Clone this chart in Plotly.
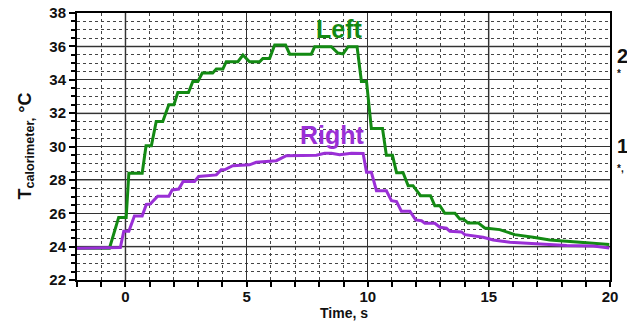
import plotly.graph_objects as go

# Left calorimeter (green)
left_t = [-2, -0.66, -0.28, 0.03, 0.14, 0.69, 0.85, 1.07, 1.27, 1.54,
          1.79, 2.0, 2.16, 2.6, 2.78, 2.99, 3.17, 3.6, 3.75, 4.02,
          4.16, 4.64, 4.85, 5.12, 5.54, 5.67, 5.95, 6.16, 6.61, 6.78,
          7.67, 7.81, 8.5, 8.77, 8.98, 9.19, 9.56, 9.74, 9.95, 10.15,
          10.61, 10.77, 11.02, 11.19, 11.46, 11.67, 11.87, 12.18, 12.59, 12.77,
          12.98, 13.18, 13.6, 13.8, 13.94, 14.14, 14.56, 14.83, 15.45, 16.07,
          16.83, 17.52, 18.76, 19.97]
left_T = [23.9, 23.9, 25.75, 25.75, 28.4, 28.4, 30.05, 30.05, 31.5, 31.5,
          32.5, 32.5, 33.24, 33.24, 33.9, 33.9, 34.4, 34.4, 34.64, 34.64,
          35.08, 35.08, 35.48, 35.08, 35.08, 35.28, 35.28, 36.08, 36.08, 35.53,
          35.53, 35.98, 35.98, 35.6, 35.55, 35.98, 35.98, 33.9, 33.9, 31.08,
          31.08, 29.47, 29.47, 28.43, 28.43, 27.65, 27.65, 27.05, 27.05, 26.45,
          26.45, 26.0, 26.0, 25.66, 25.66, 25.42, 25.42, 25.12, 25.02, 24.72,
          24.56, 24.4, 24.26, 24.12]

# Right calorimeter (purple)
right_t = [-2, -0.21, -0.07, 0.14, 0.37, 0.69, 0.86, 1.02, 1.33, 1.79,
           1.93, 2.2, 2.38, 2.85, 3.02, 3.33, 3.75, 3.95, 4.09, 4.43,
           5.12, 5.4, 6.02, 6.23, 6.64, 7.88, 8.22, 8.5, 8.84, 9.33,
           9.81, 9.95, 10.15, 10.36, 10.77, 10.98, 11.19, 11.39, 11.74, 11.98,
           12.22, 12.36, 12.77, 12.98, 13.25, 13.39, 13.87, 14.01, 14.76, 15.18,
           15.87, 16.83, 18.21, 19.31, 19.97]
right_T = [23.9, 23.95, 24.92, 24.92, 25.83, 25.83, 26.53, 26.55, 27.02, 27.02,
           27.4, 27.45, 27.9, 27.9, 28.2, 28.25, 28.3, 28.6, 28.6, 28.85,
           28.9, 29.05, 29.1, 29.15, 29.45, 29.48, 29.6, 29.6, 29.5, 29.6,
           29.58, 28.45, 28.45, 27.35, 27.35, 26.75, 26.7, 26.12, 26.12, 25.6,
           25.55, 25.4, 25.4, 25.16, 25.1, 24.92, 24.88, 24.72, 24.56, 24.4,
           24.26, 24.16, 24.06, 24.04, 23.92]

x_ticks = [0, 5, 10, 15, 20]
y_ticks = [22, 24, 26, 28, 30, 32, 34, 36, 38]
grey_y = [24, 28, 32, 36]
grey_x = [0, 15]

GREEN = "#138a13"
PURPLE = "#9a2fd6"
FONT = "Liberation Sans, Arial, sans-serif"

# plot area sits at x 77..610, y 13..280 of the window (body margin removed below)
L, R, T, B = 77, 17, 13, 41
W, H = 627, 321
pw, ph = W - L - R, H - T - B


def px(xw):
    return (xw - L) / pw


def py(yw):
    return (H - B - yw) / ph


fig = go.Figure()
fig.add_trace(go.Scatter(x=left_t, y=left_T, mode="lines",
                         line=dict(color=GREEN, width=3), name="Left"))
fig.add_trace(go.Scatter(x=right_t, y=right_T, mode="lines",
                         line=dict(color=PURPLE, width=3), name="Right"))

shapes = []
for v in grey_y:
    shapes.append(dict(type="line", xref="paper", x0=0, x1=1, yref="y", y0=v, y1=v,
                       line=dict(color="#a0a0a0", width=2), layer="below"))
for v in grey_x:
    shapes.append(dict(type="line", yref="paper", y0=0, y1=1, xref="x", x0=v, x1=v,
                       line=dict(color="#a0a0a0", width=2), layer="below"))

annotations = [
    dict(x=8.84, y=37.05, xref="x", yref="y", text="Left", showarrow=False,
         font=dict(family=FONT, size=25, color=GREEN, weight="bold")),
    dict(x=8.55, y=30.67, xref="x", yref="y", text="Right", showarrow=False,
         font=dict(family=FONT, size=25, color=PURPLE, weight="bold")),
    dict(x=px(26), y=0.5, xref="paper", yref="paper", textangle=-90,
         xanchor="center", yanchor="middle",
         text="T<sub>calorimeter,</sub> °C", showarrow=False,
         font=dict(family=FONT, size=18, color="#111", weight="bold")),
    dict(x=px(344), y=py(313), xref="paper", yref="paper",
         xanchor="center", yanchor="middle", text="Time, s", showarrow=False,
         font=dict(family=FONT, size=14, color="#111", weight="bold")),
    dict(x=px(615), y=py(43), xref="paper", yref="paper",
         xanchor="left", text="2", showarrow=False,
         font=dict(family=FONT, size=20, color="#111", weight="bold")),
    dict(x=px(615), y=py(66), xref="paper", yref="paper",
         xanchor="left", text="*", showarrow=False,
         font=dict(family=FONT, size=10, color="#111", weight="bold")),
    dict(x=px(615), y=py(146), xref="paper", yref="paper",
         xanchor="left", text="1", showarrow=False,
         font=dict(family=FONT, size=20, color="#111", weight="bold")),
    dict(x=px(615), y=py(168), xref="paper", yref="paper",
         xanchor="left", text="*,", showarrow=False,
         font=dict(family=FONT, size=10, color="#111", weight="bold")),
]

fig.update_layout(
    width=W, height=H,
    margin=dict(l=L, r=R, t=T, b=B, autoexpand=False),
    paper_bgcolor="white", plot_bgcolor="white",
    showlegend=False,
    font=dict(family=FONT, color="#111"),
    shapes=shapes, annotations=annotations,
)
fig.update_xaxes(
    range=[-2, 20], tickvals=x_ticks, ticks="outside", ticklen=5, tickwidth=1.5,
    tickcolor="black", ticklabelstandoff=-3, automargin=False,
    tickfont=dict(family=FONT, size=15, color="#111", weight="bold"),
    showgrid=True, gridcolor="#333", gridwidth=1,
    minor=dict(dtick=1, tick0=0, showgrid=True, gridcolor="#444", griddash="dot",
               gridwidth=1, ticks="outside", ticklen=5, tickcolor="black"),
    showline=True, linecolor="black", linewidth=2, mirror=True,
    zeroline=False,
)
fig.update_yaxes(
    range=[22, 38], tickvals=y_ticks, ticks="outside", ticklen=6, tickwidth=1.5,
    tickcolor="black", automargin=False,
    tickfont=dict(family=FONT, size=15, color="#111", weight="bold"),
    showgrid=True, gridcolor="#333", gridwidth=1,
    minor=dict(dtick=0.5, tick0=22, showgrid=True, gridcolor="#444", griddash="dot",
               gridwidth=1, ticks="outside", ticklen=4, tickcolor="black"),
    showline=True, linecolor="black", linewidth=2, mirror=True,
    zeroline=False,
)

fig.write_html("out.html", config={"displayModeBar": False},
               post_script="document.body.style.margin='0px';")
